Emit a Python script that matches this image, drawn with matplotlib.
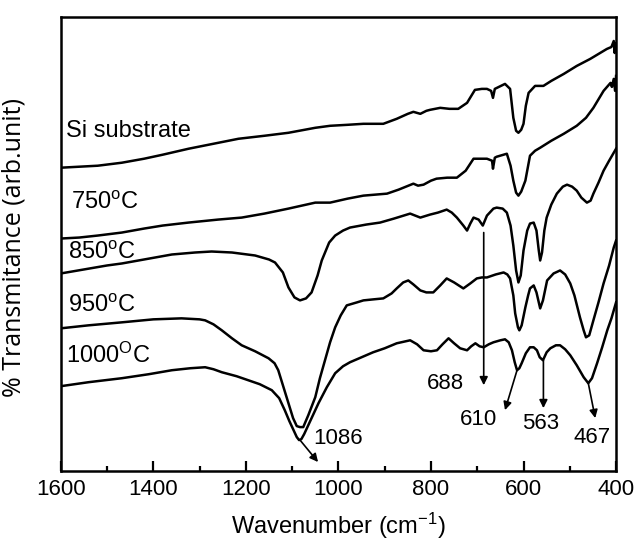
import numpy as np
import matplotlib
matplotlib.use('Agg')
from matplotlib import pyplot as plt
from matplotlib.ticker import MultipleLocator

plt.rcParams['font.family'] = 'Liberation Sans'
plt.rcParams['mathtext.fontset'] = 'custom'
plt.rcParams['mathtext.rm'] = 'Liberation Sans'
plt.rcParams['mathtext.it'] = 'Liberation Sans'

# spectra (wavenumber in cm-1, transmittance in arb. units, offset)
wn_si = [1600, 1560, 1520, 1468, 1420, 1380, 1324, 1270, 1216, 1160, 1108, 1050, 1018, 980, 946, 903,
         874, 850, 838, 823, 810, 802, 780, 760, 741, 722, 705, 690, 679, 670, 666, 662, 640, 629, 622,
         616, 611, 605, 600, 595, 589, 575, 557, 540, 513, 485, 456, 420, 410, 405, 403, 401, 400]
t_si = [303, 304, 305, 308, 312, 316, 322, 327, 332, 335, 338, 343, 345, 346, 347, 347,
        352, 357, 359, 357, 360, 361, 363, 362, 362, 368, 381, 382, 382, 380, 373, 382, 387, 382, 353,
        340, 338, 341, 347, 365, 378, 385, 385, 390, 397, 405, 412, 422, 424, 430, 418, 428, 426]

wn_750 = [1600, 1560, 1520, 1468, 1420, 1380, 1324, 1260, 1209, 1160, 1108, 1050, 1018, 980, 946, 895,
          870, 838, 828, 816, 800, 788, 765, 744, 725, 708, 690, 679, 668, 666, 662, 658, 636, 628, 622,
          616, 611, 605, 596, 586, 575, 564, 540, 513, 485, 465, 449, 427, 412, 409, 405, 402, 400]
t_750 = [232, 233, 235, 238, 242, 245, 248, 251, 253, 257, 262, 268, 268, 272, 275, 277,
         281, 287, 285, 286, 290, 292, 293, 293, 300, 312, 312, 312, 310, 302, 313, 314, 317, 305, 290,
         278, 275, 279, 290, 315, 320, 323, 330, 337, 345, 353, 363, 380, 388, 384, 392, 380, 395]

wn_850 = [1600, 1550, 1500, 1468, 1420, 1360, 1310, 1274, 1230, 1180, 1150, 1137, 1120, 1108, 1095,
          1083, 1070, 1058, 1045, 1036, 1020, 1007, 990, 975, 940, 910, 880, 845, 823, 802, 785, 766,
          755, 744, 730, 722, 715, 708, 697, 688, 679, 665, 658, 645, 636, 628, 622, 616, 611, 606,
          600, 592, 586, 578, 572, 567, 564, 560, 555, 550, 540, 528, 515, 506, 495, 485, 475, 463,
          455, 449, 438, 427, 415, 405, 400]
t_850 = [197, 201, 205, 207, 211, 216, 218, 219, 218, 215, 211, 208, 198, 183, 173,
         170, 172, 178, 195, 210, 228, 235, 240, 243, 246, 248, 252, 257, 253, 256, 258, 261,
         258, 253, 245, 240, 247, 253, 251, 245, 255, 262, 263, 262, 258, 245, 225, 200, 188, 195,
         220, 240, 247, 248, 240, 220, 210, 218, 240, 253, 266, 277, 284, 286, 284, 280, 273, 268,
         270, 277, 288, 300, 310, 318, 322]

wn_950 = [1600, 1540, 1468, 1400, 1339, 1300, 1288, 1270, 1252, 1230, 1209, 1180, 1151, 1138, 1130,
          1120, 1108, 1098, 1090, 1083, 1076, 1065, 1050, 1040, 1029, 1018, 1007, 995, 982, 960, 946,
          925, 903, 885, 874, 860, 849, 838, 823, 810, 795, 780, 766, 750, 730, 715, 701, 690, 679,
          660, 643, 635, 629, 622, 618, 612, 609, 604, 596, 590, 586, 578, 572, 567, 564, 558, 549,
          535, 521, 510, 499, 490, 478, 470, 465, 458, 449, 438, 427, 415, 405, 400]
t_950 = [142, 145, 148, 151, 152, 151, 150, 146, 140, 132, 125, 119, 112, 107, 100,
         85, 67, 52, 44, 43, 43, 55, 73, 92, 110, 128, 143, 155, 165, 168, 170,
         171, 172, 177, 182, 188, 190, 186, 180, 178, 178, 185, 192, 188, 182, 187, 192, 193, 193,
         196, 198, 196, 192, 175, 157, 143, 140, 145, 163, 175, 182, 185, 178, 168, 162, 170, 190,
         197, 200, 196, 187, 175, 153, 140, 133, 135, 150, 168, 187, 205, 223, 230]

wn_1000 = [1600, 1540, 1468, 1410, 1360, 1320, 1288, 1270, 1252, 1220, 1195, 1170, 1144, 1128, 1116,
           1106, 1097, 1090, 1085, 1080, 1074, 1068, 1055, 1043, 1025, 1007, 990, 975, 950, 925, 900,
           874, 845, 830, 816, 800, 787, 775, 762, 750, 737, 722, 713, 704, 695, 686, 675, 665, 650,
           640, 632, 625, 619, 614, 609, 604, 595, 586, 578, 571, 565, 558, 550, 542, 530, 521, 510,
           499, 485, 470, 460, 452, 441, 430, 419, 410, 405, 400]
t_1000 = [84, 88, 92, 96, 100, 102, 103, 101, 98, 94, 90, 86, 80, 72, 60,
          49, 40, 33, 30, 31, 36, 42, 55, 67, 83, 97, 104, 108, 113, 118, 122,
          127, 130, 126, 120, 119, 120, 126, 132, 127, 122, 120, 124, 127, 124, 123, 126, 128, 130,
          131, 128, 120, 108, 100, 102, 107, 117, 123, 123, 120, 113, 110, 118, 122, 125, 125, 121,
          115, 105, 93, 87, 92, 107, 123, 140, 152, 160, 168]

curves = [(wn_si, t_si), (wn_750, t_750), (wn_850, t_850), (wn_950, t_950), (wn_1000, t_1000)]

# curve labels: text, x (cm-1), y
lab_text = ['Si substrate', '750$^{\\rm o}$C', '850$^{\\rm o}$C', '950$^{\\rm o}$C', '1000$^{\\rm O}$C']
lab_x = [1588, 1578, 1584, 1584, 1588]
lab_y = [340, 268, 218, 164, 115]

# peak annotations: label, arrow start, arrow end, text position
peak_lab = ['1086', '688', '610', '563', '467']
arr_from = [(1083, 30), (686, 238), (614, 100), (557, 110), (460, 87)]
arr_to = [(1044, 8), (686, 85), (640, 60), (557, 62), (445, 52)]
txt_pos = [(1054, 32), (769, 87), (697, 51), (564, 47), (452, 33)]
txt_ha = ['left', 'center', 'center', 'center', 'center']

fig = plt.figure(figsize=(6.39, 5.43), dpi=100)
ax = fig.add_axes([0.0951, 0.1326, 0.869, 0.836])

for wn, t in curves:
    ax.plot(wn, t, color='k', lw=1.8, solid_joinstyle='round')

for s, x, y in zip(lab_text, lab_x, lab_y):
    ax.text(x, y, s, fontsize=17, ha='left', va='center')

for s, a0, a1, p, ha in zip(peak_lab, arr_from, arr_to, txt_pos, txt_ha):
    ax.annotate('', xy=a1, xytext=a0,
                arrowprops=dict(arrowstyle='-|>', color='k', lw=1.2, mutation_scale=12,
                                shrinkA=0, shrinkB=0))
    ax.text(p[0], p[1], s, fontsize=16, ha=ha, va='center')

ax.set_xlim(1600, 400)
ax.set_ylim(-1, 454)
ax.xaxis.set_major_locator(MultipleLocator(200))
ax.xaxis.set_minor_locator(MultipleLocator(100))
ax.tick_params(axis='x', which='both', direction='in', top=False, width=1.6, labelsize=16, pad=6)
ax.tick_params(axis='x', which='major', length=7)
ax.tick_params(axis='x', which='minor', length=3.5)
ax.set_yticks([])
for sp in ax.spines.values():
    sp.set_linewidth(1.8)

ax.set_xlabel('Wavenumber (cm$^{-1}$)', fontsize=17)
ax.xaxis.set_label_coords(0.5, -0.088)
ax.set_ylabel('% Transmitance (arb.unit)', fontsize=18, family='Open Sans')
ax.yaxis.set_label_coords(-0.062, 0.492)

fig.savefig('out.png', dpi=100)
